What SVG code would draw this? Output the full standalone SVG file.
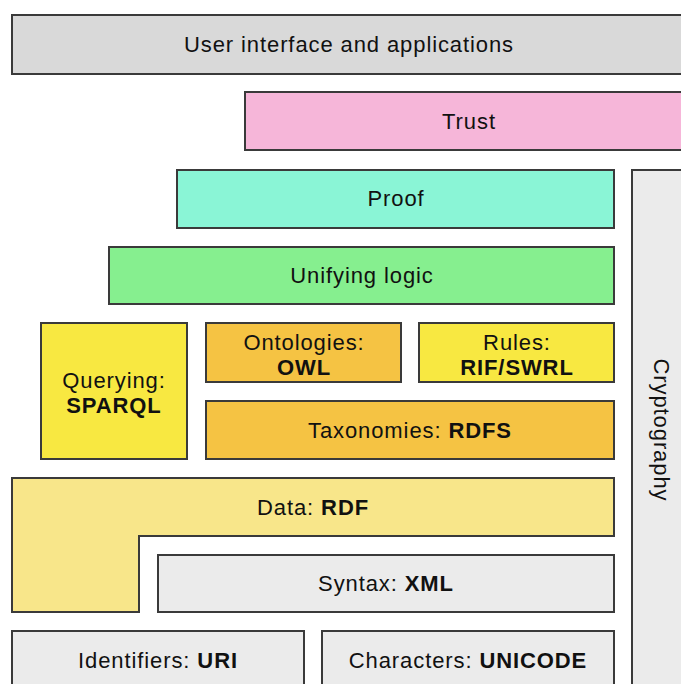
<svg xmlns="http://www.w3.org/2000/svg" width="681" height="684" viewBox="0 0 681 684">
<style>
.b{stroke:#3a3a3a;stroke-width:2}
text{font-family:"Liberation Sans",Arial,sans-serif;font-size:22px;letter-spacing:0.9px;fill:#111;text-anchor:middle;dominant-baseline:central}
.k{font-weight:bold}
</style>
<rect width="681" height="684" fill="#fff"/>
<g id="ui"><rect class="b" x="12" y="15" width="680" height="59" fill="#d9d9d9"/><text x="349" y="44">User interface and applications</text></g>
<g id="trust"><rect class="b" x="245" y="92" width="450" height="58" fill="#f6b6d9"/><text x="469" y="121">Trust</text></g>
<g id="proof"><rect class="b" x="177" y="170" width="437" height="58" fill="#8af5d6"/><text x="396" y="198">Proof</text></g>
<g id="logic"><rect class="b" x="109" y="247" width="505" height="57" fill="#86ef8f"/><text x="362" y="275">Unifying logic</text></g>
<g id="query"><rect class="b" x="41" y="323" width="146" height="136" fill="#f8e841"/><text x="114" y="380">Querying:</text><text class="k" x="114" y="405">SPARQL</text></g>
<g id="owl"><rect class="b" x="206" y="323" width="195" height="59" fill="#f5c343"/><text x="304" y="342">Ontologies:</text><text class="k" x="304" y="367">OWL</text></g>
<g id="rules"><rect class="b" x="419" y="323" width="195" height="59" fill="#f8e841"/><text x="517" y="342">Rules:</text><text class="k" x="517" y="367">RIF/SWRL</text></g>
<g id="rdfs"><rect class="b" x="206" y="401" width="408" height="58" fill="#f5c343"/><text x="410" y="430">Taxonomies: <tspan class="k">RDFS</tspan></text></g>
<g id="rdf"><path class="b" d="M12 478H614V536H139V612H12Z" fill="#f8e68a"/><text x="313" y="507">Data: <tspan class="k">RDF</tspan></text></g>
<g id="xml"><rect class="b" x="158" y="555" width="456" height="57" fill="#ebebeb"/><text x="386" y="583">Syntax: <tspan class="k">XML</tspan></text></g>
<g id="uri"><rect class="b" x="12" y="631" width="292" height="70" fill="#ebebeb"/><text x="158" y="660">Identifiers: <tspan class="k">URI</tspan></text></g>
<g id="unicode"><rect class="b" x="322" y="631" width="292" height="70" fill="#ebebeb"/><text x="468" y="660">Characters: <tspan class="k">UNICODE</tspan></text></g>
<g id="crypto"><rect class="b" x="632" y="170" width="70" height="540" fill="#ebebeb"/><text transform="translate(661 430) rotate(90)">Cryptography</text></g>
<g id="connectors"/>
</svg>
